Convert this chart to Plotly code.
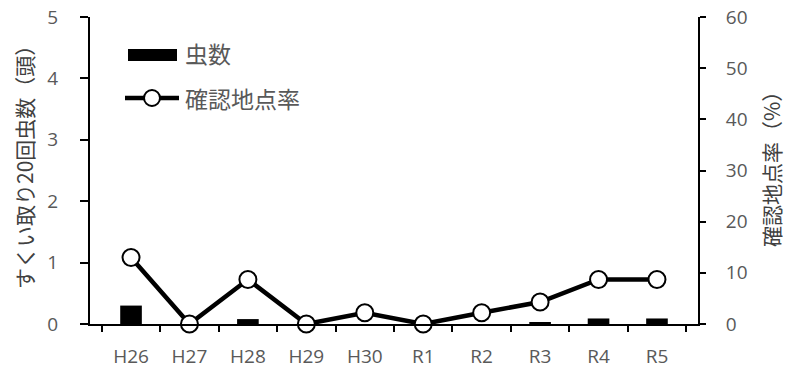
import plotly.graph_objects as go

# Survey years (Heisei / Reiwa)
years = ["H26", "H27", "H28", "H29", "H30", "R1", "R2", "R3", "R4", "R5"]
# Insects per 20 sweeps (left axis)
insect_counts = [0.30, 0.0, 0.08, 0.0, 0.0, 0.0, 0.0, 0.02, 0.09, 0.09]
# Share of sites where the insect was confirmed, % (right axis)
confirm_rate = [13.0, 0.0, 8.7, 0.0, 2.2, 0.0, 2.2, 4.3, 8.7, 8.7]

left_ticks = [0, 1, 2, 3, 4, 5]
right_ticks = [0, 10, 20, 30, 40, 50, 60]

W, H = 789, 369
L, R, T, B = 90, 698, 17, 324  # plot-area edges in pixels

tick_font = dict(family="Open Sans, Liberation Sans, sans-serif", size=19, color="#595959")
jp_font = "Noto Sans CJK JP"

fig = go.Figure()
fig.add_trace(go.Bar(
    x=years, y=insect_counts, name="虫数", yaxis="y",
    marker=dict(color="black", line=dict(width=0)), width=0.37, showlegend=False,
))
fig.add_trace(go.Scatter(
    x=years, y=confirm_rate, name="確認地点率", yaxis="y2",
    mode="lines+markers", cliponaxis=False,
    line=dict(color="black", width=4.5),
    marker=dict(symbol="circle", size=17, color="white", line=dict(color="black", width=2)),
    showlegend=False,
))

def px(x):
    return (x - L) / (R - L)

def py(y):
    return (B - y) / (B - T)

# Hand-placed legend
shapes = [
    dict(type="rect", xref="paper", yref="paper", x0=px(128), x1=px(177), y0=py(61), y1=py(49),
         fillcolor="black", line=dict(width=0)),
    dict(type="line", xref="paper", yref="paper", x0=px(125), x1=px(179), y0=py(98), y1=py(98),
         line=dict(color="black", width=4.5)),
    dict(type="circle", xref="paper", yref="paper", x0=px(144), x1=px(160), y0=py(106), y1=py(90),
         fillcolor="white", line=dict(color="black", width=2)),
]
annotations = [
    dict(text="虫数", xref="paper", yref="paper", x=px(183), y=py(53), xanchor="left", yanchor="middle",
         showarrow=False, font=dict(family=jp_font, size=23, color="#595959")),
    dict(text="確認地点率", xref="paper", yref="paper", x=px(183), y=py(98), xanchor="left", yanchor="middle",
         showarrow=False, font=dict(family=jp_font, size=23, color="#595959")),
    # Axis titles
    dict(text="すくい取り20回虫数（頭）", xref="paper", yref="paper", x=px(24), y=py(162),
         xanchor="center", yanchor="middle", textangle=-90, showarrow=False,
         font=dict(family=jp_font, size=21, color="#404040")),
    dict(text="確認地点率（%）", xref="paper", yref="paper", x=px(771), y=py(164),
         xanchor="center", yanchor="middle", textangle=-90, showarrow=False,
         font=dict(family=jp_font, size=21, color="#404040")),
]

fig.update_layout(
    width=W, height=H,
    margin=dict(l=L, r=W - R, t=T, b=H - B),
    paper_bgcolor="white", plot_bgcolor="white",
    shapes=shapes, annotations=annotations,
    xaxis=dict(
        type="category", showline=True, linecolor="black", linewidth=2, automargin=False,
        ticks="outside", tickson="boundaries", ticklen=6, tickwidth=2, tickcolor="black",
        tickfont=tick_font, showgrid=False, zeroline=False, ticklabelstandoff=14,
    ),
    yaxis=dict(
        range=[0, 5], tickvals=left_ticks, showline=True, linecolor="black", linewidth=2,
        automargin=False,
        ticks="outside", ticklen=8, tickwidth=2, tickcolor="black",
        tickfont=tick_font, showgrid=False, zeroline=False, ticklabelstandoff=18,
    ),
    yaxis2=dict(
        range=[0, 60], tickvals=right_ticks, overlaying="y", side="right",
        showline=True, linecolor="black", linewidth=2, automargin=False,
        ticks="outside", ticklen=6, tickwidth=2, tickcolor="black",
        tickfont=tick_font, showgrid=False, zeroline=False, ticklabelstandoff=16,
    ),
)

fig.write_html("out.html")
